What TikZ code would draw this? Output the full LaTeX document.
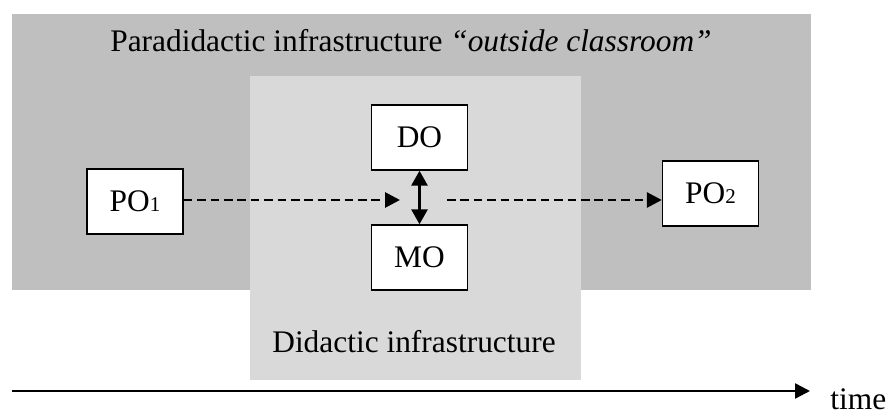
\documentclass[tikz,border=0pt]{standalone}
\usepackage{fontspec}
\setmainfont{Liberation Serif}
\usetikzlibrary{arrows.meta}
\begin{document}
\begin{tikzpicture}[x=0.5pt,y=-0.5pt,every node/.style={font=\fontsize{15.7}{18}\selectfont},
  obox/.style={draw,fill=white,line width=0.7pt,minimum width=48pt,minimum height=32.5pt,inner sep=0pt},
  flow/.style={line width=1.4pt,dash pattern=on 4.3pt off 2.4pt,-{Triangle[length=7.5pt,width=7.5pt]}},
  link/.style={line width=1.4pt,{Triangle[length=7.5pt,width=8pt]}-{Triangle[length=7.5pt,width=8pt]}}]
  \useasboundingbox (0,0) rectangle (889,416);
  % infrastructures
  \fill[black!25] (12,14) rectangle (811,290);
  \fill[black!15] (250,76) rectangle (581,380);
  \node[anchor=base] (para) at (411,52) {Paradidactic infrastructure \textit{“outside classroom”}};
  \node[anchor=base] (dida) at (414,353) {Didactic infrastructure};
  % praxeologies
  \node[obox] (po1) at (135,201.5) {PO{\fontsize{10.5}{11}\selectfont 1}};
  \node[obox] (do) at (419.5,137.5) {DO};
  \node[obox] (mo) at (419.5,257.5) {MO};
  \node[obox] (po2) at (710.5,193.5) {PO{\fontsize{10.5}{11}\selectfont 2}};
  \coordinate (in) at (400,200);
  \coordinate (out) at (447,200);
  \draw[flow] (po1.east |- in) -- (in);
  \draw[flow] (out) -- (out -| po2.west);
  \draw[link] (do) -- (mo);
  % time axis
  \coordinate (t0) at (12,391);
  \coordinate (t1) at (810,391);
  \draw[line width=1.2pt,-{Triangle[length=7.5pt,width=7.5pt]}] (t0) -- (t1);
  \node[anchor=base west,inner sep=0pt] (time) at (830,410) {time};
\end{tikzpicture}
\end{document}
